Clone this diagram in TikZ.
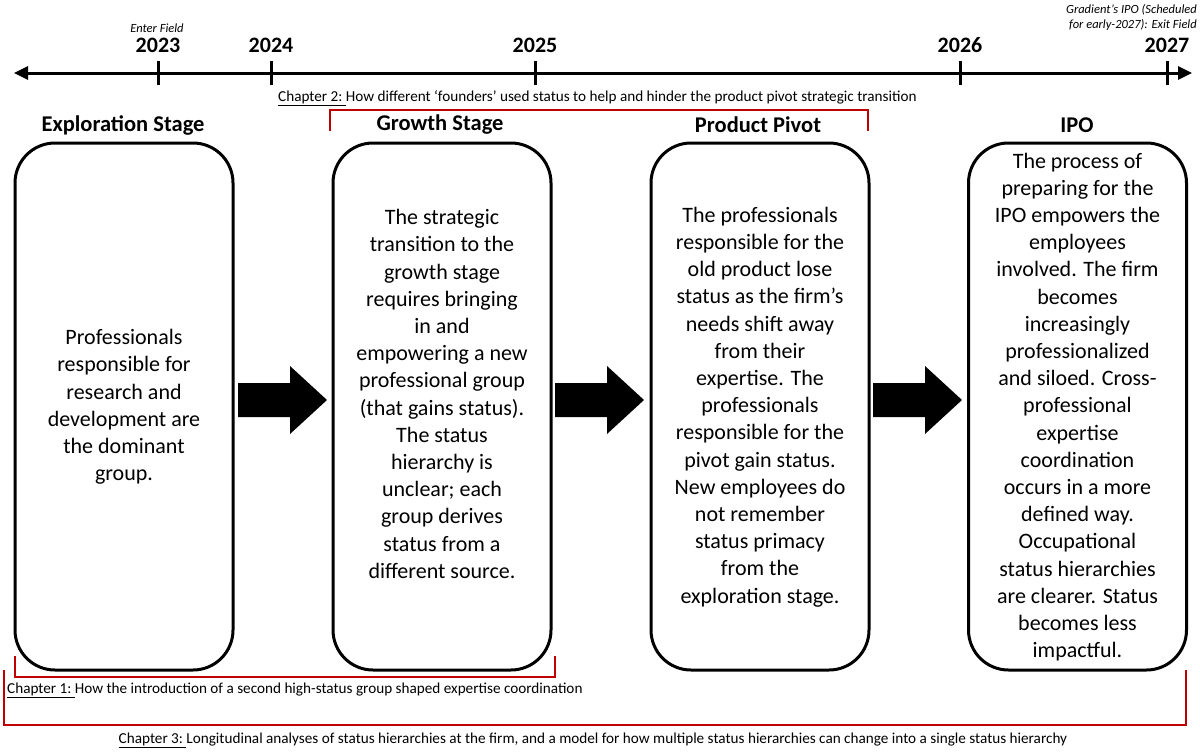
\documentclass[tikz,border=0pt]{standalone}
\usepackage{fontspec}
\setmainfont{Carlito}
\usetikzlibrary{arrows.meta,calc}
\definecolor{chred}{RGB}{192,0,0}
\begin{document}
\begin{tikzpicture}[x=1pt,y=-1pt,
  stagebox/.style={draw=black,line width=3pt,rounded corners=40pt,minimum width=218pt,minimum height=527pt,inner sep=0pt},
  boxtext/.style={align=center,font=\fontsize{22}{27.2}\selectfont,inner sep=0pt},
  title/.style={font=\fontsize{22.5}{26}\selectfont\bfseries,inner sep=0pt},
  year/.style={font=\fontsize{22}{26}\selectfont\bfseries,inner sep=0pt},
  note/.style={font=\fontsize{12.5}{15}\selectfont\itshape,inner sep=0pt},
  chap/.style={font=\fontsize{15.2}{18}\selectfont,inner sep=0pt},
  bracket/.style={draw=chred,line width=1.3pt},
  tick/.style={line width=3pt},
  blockarrow/.style={fill=black}
]
\useasboundingbox (0,0) rectangle (1200,755);

% timeline
\coordinate (tl) at (14,73);
\coordinate (tr) at (1192,73);
\draw[line width=3pt,{Triangle[length=14pt,width=13pt]}-{Triangle[length=14pt,width=13pt]}] (tl) -- (tr);
\foreach \x/\n in {158/a,271/b,535/c,960/d,1167/e}{
  \coordinate (t\n) at (\x,73);
  \draw[tick] (\x,61) -- (\x,85);
}
\node[year] (y23) at (158,45) {2023};
\node[year] (y24) at (271,45) {2024};
\node[year] (y25) at (535,45) {2025};
\node[year] (y26) at (960,45) {2026};
\node[year] (y27) at (1167,45) {2027};
\node[note] (enter) at (157,28) {Enter Field};
\node[note,align=right,anchor=north east,font=\fontsize{12.5}{15}\selectfont\itshape] (exit) at (1197,4) {Gradient’s IPO (Scheduled\\for early-2027): Exit Field};

% titles
\node[title] (t1) at (123,125) {Exploration Stage};
\node[title] (t2) at (440,125) {Growth Stage};
\node[title] (t3) at (758,125) {Product Pivot};
\node[title] (t4) at (1077,125) {IPO};

% boxes
\node[stagebox] (b1) at (124,406.5) {};
\node[stagebox] (b2) at (442,406.5) {};
\node[stagebox] (b3) at (760,406.5) {};
\node[stagebox] (b4) at (1077.5,406.5) {};

\node[boxtext] (x1) at (124,407) {Professionals\\responsible for\\research and\\development are\\the dominant\\group.};
\node[boxtext] (x2) at (442,394) {The strategic\\transition to the\\growth stage\\requires bringing\\in and\\empowering a new\\professional group\\(that gains status).\\The status\\hierarchy is\\unclear; each\\group derives\\status from a\\different source.};
\node[boxtext] (x3) at (760,407) {The professionals\\responsible for the\\old product lose\\status as the firm's\\needs shift away\\from their\\expertise. The\\professionals\\responsible for the\\pivot gain status.\\New employees do\\not remember\\status primacy\\from the\\exploration stage.};
\node[boxtext] (x4) at (1077.5,407) {The process of\\preparing for the\\IPO empowers the\\employees\\involved. The firm\\becomes\\increasingly\\professionalized\\and siloed. Cross-\\professional\\expertise\\coordination\\occurs in a more\\defined way.\\Occupational\\status hierarchies\\are clearer. Status\\becomes less\\impactful.};

% block arrows
\foreach \s in {238,555,873}{
  \fill[blockarrow] (\s,383) -- (\s+52,383) -- (\s+52,366) -- (\s+89,400) -- (\s+52,434) -- (\s+52,417) -- (\s,417) -- cycle;
}

% chapter 2
\node[chap,anchor=west] (c2) at (278,98) {\underline{Chapter 2:\ }How different ‘founders’ used status to help and hinder the product pivot strategic transition};
\draw[bracket] (330,131) -- (330,110) -- (868,110) -- (868,131);

% chapter 1
\draw[bracket] (15,656) -- (15,677) -- (555,677) -- (555,656);
\node[chap,anchor=west] (c1) at (7,690) {\underline{Chapter 1:\ }How the introduction of a second high-status group shaped expertise coordination};

% chapter 3
\draw[bracket] (4,670) -- (4,725) -- (1186,725) -- (1186,670);
\node[chap] (c3) at (593,740) {\underline{Chapter 3:\ }Longitudinal analyses of status hierarchies at the firm, and a model for how multiple status hierarchies can change into a single status hierarchy};
\end{tikzpicture}
\end{document}
